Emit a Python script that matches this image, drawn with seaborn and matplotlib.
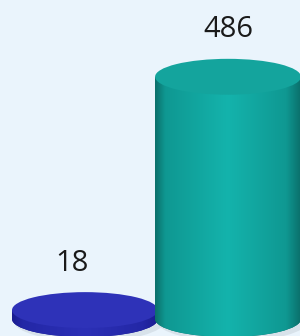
import numpy as np
import matplotlib.pyplot as plt
import seaborn as sns
from matplotlib.patches import Ellipse
from matplotlib.colors import LinearSegmentedColormap

# data
categories = ["A", "B"]
values = [18, 486]
labels = ["18", "486"]
colors = ["#2b2eb4", "#12a39c"]
side_dark = ["#1a1c90", "#0b6f6b"]
side_mid = ["#2327a6", "#0f9892"]
side_light = ["#2c30b6", "#14b3ac"]
top_colors = ["#2e32b8", "#14a49d"]

sns.set_theme(style="white")
plt.rcParams["font.family"] = ["Open Sans", "DejaVu Sans"]

bg = "#eaf4fc"
fig = plt.figure(figsize=(3.0, 3.36), dpi=100)
fig.patch.set_facecolor(bg)
ax = fig.add_axes([0, 0, 1, 1])
ax.set_facecolor(bg)

sns.barplot(x=categories, y=values, hue=categories, palette=colors,
            width=1.02, saturation=1, legend=False, ax=ax)

ax.set_xlim(-0.594, 1.503)
ax.set_ylim(-34, 640)
ax.axis("off")

cap_h = 72  # ellipse height in data units
grad = np.linspace(0, 1, 256).reshape(1, -1)

for i, p in enumerate(ax.patches):
    x0, w, h = p.get_x(), p.get_width(), p.get_height()
    cx = x0 + w / 2
    z = 2 + i * 5
    cmap = LinearSegmentedColormap.from_list(
        "c%d" % i,
        [(0, side_dark[i]), (0.07, side_mid[i]), (0.5, side_light[i]),
         (0.9, side_mid[i]), (1, side_dark[i])], N=256)
    # soft shadow under the base
    sh = Ellipse((cx + 0.03, -5), w * 1.03, cap_h * 1.1, facecolor="#cdd6de",
                 edgecolor="none", alpha=0.6, zorder=z - 1)
    ax.add_patch(sh)
    bot = Ellipse((cx, 0), w, cap_h, facecolor=side_dark[i], edgecolor="none",
                  zorder=z)
    ax.add_patch(bot)
    p.set_zorder(z + 1)
    p.set_edgecolor("none")
    for clip in (p, bot):
        im = ax.imshow(grad, cmap=cmap, aspect="auto",
                       extent=(x0, x0 + w, -cap_h, h), zorder=z + 2)
        im.set_clip_path(clip)
    top = Ellipse((cx, h), w, cap_h, facecolor=top_colors[i], edgecolor="none",
                  zorder=z + 3)
    ax.add_patch(top)
    # short bars get their label nudged left, as in the 3D view
    dx = -0.09 if h < 100 else 0
    ax.text(cx + dx, h + cap_h / 2 + 58, labels[i], ha="center", va="center",
            fontsize=21, color="#1a1a1a", zorder=20)

fig.savefig("out.png", dpi=100, facecolor=bg)
